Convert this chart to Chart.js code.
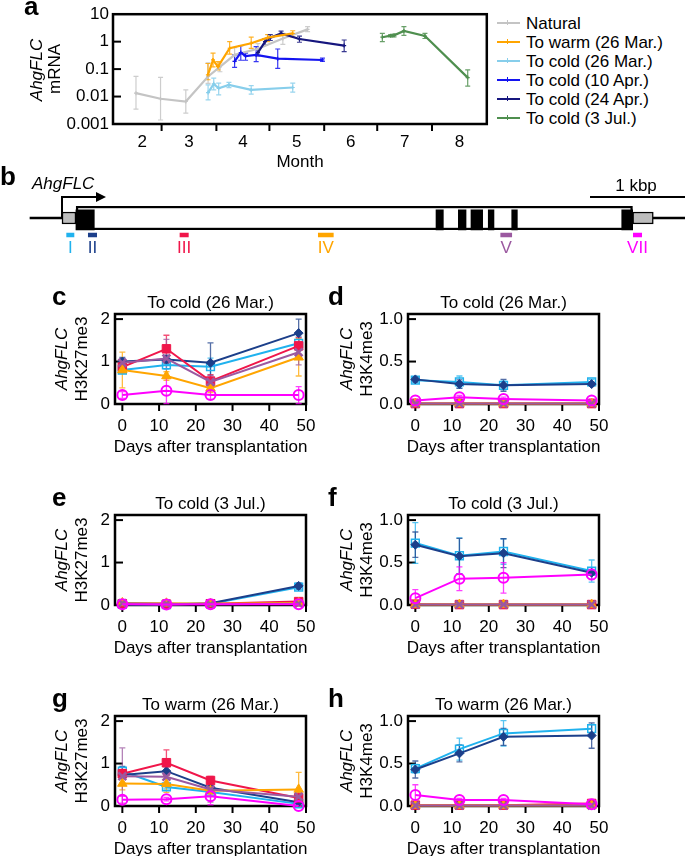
<!DOCTYPE html>
<html>
<head>
<meta charset="utf-8">
<script src="https://cdn.jsdelivr.net/npm/chart.js@4.4.1/dist/chart.umd.min.js"></script>
<style>
html,body{margin:0;padding:0;background:#fff;}
body{width:685px;height:856px;position:relative;overflow:hidden;font-family:"Liberation Sans",Arial,Helvetica,sans-serif;color:#000;}
canvas{position:absolute;}
.tx{position:absolute;font-size:17px;line-height:17px;white-space:nowrap;transform:translate(-50%,-50%);}
.tl{position:absolute;font-size:17px;line-height:17px;white-space:nowrap;transform:translate(0,-50%);}
.rt{position:absolute;font-size:17px;line-height:17px;white-space:nowrap;transform:translate(-50%,-50%) rotate(-90deg);}
.pl{position:absolute;font-size:26px;line-height:26px;font-weight:bold;}
.it{font-style:italic;}
.lg{position:absolute;height:0;width:23px;border-top:2px solid;}
.lg i{position:absolute;left:10px;top:-4px;width:0;height:5px;border-left:1.5px solid;border-color:inherit;}
</style>
</head>
<body>
<script>
// ================= DATA =================
// ---- panel a: AhgFLC mRNA (x = day of year, Jan 1 = 0) ----
const seriesNames = ['Natural', 'To warm (26 Mar.)', 'To cold (26 Mar.)', 'To cold (10 Apr.)', 'To cold (24 Apr.)', 'To cold (3 Jul.)'];
const monthTickLabels = ['2', '3', '4', '5', '6', '7', '8'];
const monthTickDoy = [48, 74.5, 105, 135.5, 166, 196.5, 227.5];
const monthStartDoy = [59, 90, 120, 151, 181, 212];
const mrnaTickValues = [0.001, 0.01, 0.1, 1, 10];
const mrnaTickLabels = ['0.001', '0.01', '0.1', '1', '10'];

const naturalDoy = [44.5, 58.4, 72.7, 85.3, 92, 100.3, 113.5, 127.6, 141.6];
const naturalMean = [0.0133, 0.0083, 0.0066, 0.054, 0.12, 0.33, 0.55, 1.3, 2.8];
const naturalLow = [0.0035, 0.0014, 0.0025, 0.03, 0.08, 0.19, 0.35, 0.8, 2.3];
const naturalHigh = [0.054, 0.05, 0.0175, 0.17, 0.17, 0.6, 0.85, 2.0, 3.5];

const warmMarDoy = [85.2, 88.1, 90.9, 97.5, 109.7, 119, 133.2];
const warmMarMean = [0.062, 0.215, 0.123, 0.575, 0.87, 1.4, 2.0];
const warmMarLow = [0.041, 0.12, 0.093, 0.35, 0.57, 1.0, 1.5];
const warmMarHigh = [0.16, 0.38, 0.187, 1.0, 1.45, 1.8, 2.5];

const coldMarDoy = [85.3, 88.5, 91.3, 97.1, 109.7, 133.2];
const coldMarMean = [0.014, 0.029, 0.020, 0.0266, 0.0175, 0.0214];
const coldMarLow = [0.0076, 0.0175, 0.0115, 0.021, 0.0123, 0.0145];
const coldMarHigh = [0.0266, 0.047, 0.031, 0.033, 0.025, 0.031];

const coldApr10Doy = [100.3, 103.8, 106.5, 112.5, 124.7, 150];
const coldApr10Mean = [0.19, 0.40, 0.30, 0.33, 0.24, 0.215];
const coldApr10Low = [0.115, 0.21, 0.21, 0.187, 0.107, 0.19];
const coldApr10High = [0.33, 0.71, 0.38, 0.66, 0.54, 0.25];

const coldApr24Doy = [113.5, 117.5, 120.5, 126.6, 137, 162.3];
const coldApr24Mean = [0.40, 1.0, 1.4, 2.0, 1.25, 0.72];
const coldApr24Low = [0.3, 0.75, 1.1, 1.7, 0.95, 0.43];
const coldApr24High = [0.55, 1.3, 1.8, 2.4, 1.6, 1.15];

const coldJulDoy = [183.9, 188.6, 190.5, 196.1, 208, 232.2];
const coldJulMean = [1.45, 1.65, 1.7, 2.45, 1.6, 0.049];
const coldJulLow = [1.0, 1.5, 1.5, 1.7, 1.3, 0.024];
const coldJulHigh = [2.0, 1.8, 1.9, 3.5, 2.0, 0.093];

// ---- panel b: gene model (bp from TSS) ----
const tssBp = 0;
const flankSpans = [[-337, 0], [6224, 6558]];
const utrSpans = [[0, 147], [6007, 6224]];
const geneBodySpan = [147, 6007];
const exonSpans = [[147, 340], [3937, 4014], [4172, 4253], [4305, 4428], [4487, 4547], [4734, 4793], [5892, 6007]];
const primerSpans = [[49, 126], [277, 365], [1242, 1330], [2698, 2856], [4618, 4734], [6014, 6102]];
const scaleBarSpan = [5558, 6558];

// ---- panels c-h: ChIP (rows in regionNames order) ----
const regionNames = ['I', 'II', 'III', 'IV', 'V', 'VII'];
const dayValues = [0, 12, 24, 48];
const dayTicks = [0, 10, 20, 30, 40, 50];
const dayTickLabels = ['0', '10', '20', '30', '40', '50'];
const k27Ticks = [0, 1, 2];
const k27TickLabels = ['0', '1', '2'];
const k4Ticks = [0, 0.5, 1];
const k4TickLabels = ['0.0', '0.5', '1.0'];

// c: H3K27me3, to cold (26 Mar.)
const cMean = [[0.80, 0.92, 0.88, 1.43], [1.00, 1.05, 0.97, 1.67], [0.87, 1.30, 0.54, 1.37], [0.80, 0.66, 0.37, 1.10], [0.97, 1.07, 0.52, 1.22], [0.21, 0.31, 0.21, 0.21]];
const cSD = [[0.08, 0.10, 0.20, 0.15], [0.10, 0.10, 0.47, 0.33], [0.12, 0.32, 0.15, 0.20], [0.42, 0.10, 0.10, 0.44], [0.10, 0.45, 0.15, 0.30], [0.08, 0.30, 0.10, 0.20]];
// d: H3K4me3, to cold (26 Mar.)
const dMean = [[0.28, 0.26, 0.22, 0.26], [0.29, 0.235, 0.22, 0.235], [0.005, 0.005, 0.005, 0.005], [0.005, 0.005, 0.005, 0.005], [0.005, 0.005, 0.005, 0.005], [0.04, 0.08, 0.06, 0.04]];
const dSD = [[0.03, 0.07, 0.05, 0.03], [0.03, 0.05, 0.07, 0.02], [0.003, 0.003, 0.003, 0.003], [0.003, 0.003, 0.003, 0.003], [0.003, 0.003, 0.003, 0.003], [0.02, 0.02, 0.02, 0.02]];
// e: H3K27me3, to cold (3 Jul.)
const eMean = [[0.02, 0.01, 0.03, 0.42], [0.02, 0.02, 0.04, 0.45], [0.03, 0.02, 0.03, 0.08], [0.05, 0.04, 0.03, 0.05], [0.04, 0.03, 0.02, 0.03], [0.02, 0.01, 0.02, 0.02]];
const eSD = [[0.02, 0.01, 0.01, 0.06], [0.02, 0.01, 0.01, 0.07], [0.02, 0.01, 0.01, 0.03], [0.03, 0.02, 0.02, 0.02], [0.02, 0.01, 0.01, 0.01], [0.01, 0.01, 0.01, 0.01]];
// f: H3K4me3, to cold (3 Jul.)
const fMean = [[0.73, 0.58, 0.63, 0.40], [0.71, 0.575, 0.61, 0.38], [0.01, 0.005, 0.005, 0.005], [0.005, 0.005, 0.005, 0.005], [0.005, 0.005, 0.005, 0.005], [0.08, 0.31, 0.32, 0.36]];
const fSD = [[0.24, 0.21, 0.15, 0.13], [0.15, 0.21, 0.17, 0.03], [0.003, 0.003, 0.003, 0.003], [0.003, 0.003, 0.003, 0.003], [0.003, 0.003, 0.003, 0.003], [0.10, 0.14, 0.18, 0.06]];
// g: H3K27me3, to warm (26 Mar.)
const gMean = [[0.82, 0.45, 0.33, 0.05], [0.73, 0.82, 0.43, 0.09], [0.76, 1.02, 0.60, 0.19], [0.53, 0.52, 0.36, 0.39], [0.70, 0.69, 0.39, 0.22], [0.15, 0.16, 0.23, 0.0]];
const gSD = [[0.10, 0.05, 0.05, 0.03], [0.20, 0.10, 0.05, 0.03], [0.10, 0.30, 0.10, 0.05], [0.15, 0.20, 0.10, 0.40], [0.67, 0.15, 0.30, 0.10], [0.08, 0.04, 0.20, 0.02]];
// h: H3K4me3, to warm (26 Mar.)
const hMean = [[0.44, 0.67, 0.855, 0.91], [0.43, 0.62, 0.815, 0.83], [0.01, 0.01, 0.01, 0.03], [0.005, 0.005, 0.005, 0.005], [0.005, 0.005, 0.005, 0.005], [0.13, 0.07, 0.07, 0.02]];
const hSD = [[0.05, 0.13, 0.15, 0.05], [0.10, 0.10, 0.10, 0.15], [0.005, 0.005, 0.005, 0.01], [0.003, 0.003, 0.003, 0.003], [0.003, 0.003, 0.003, 0.003], [0.12, 0.02, 0.02, 0.01]];

// ================= STYLE =================
const FONT = "'Liberation Sans', Arial, Helvetica, sans-serif";
const mrnaColors = ['#c4c4c4', '#ffa500', '#87ceeb', '#1414f0', '#16167e', '#4f8f4f'];
const regionColors = ['#20b2ee', '#1c3f8a', '#f0164a', '#ffa500', '#9b59a0', '#ff00ff'];
const regionStyle = [
  {pointStyle: 'rect', radius: 5.5, fill: false, bw: 1.5, order: 5},
  {pointStyle: 'rectRot', radius: 4.5, fill: true, bw: 1, order: 4},
  {pointStyle: 'rect', radius: 6, fill: true, bw: 1, order: 3},
  {pointStyle: 'triangle', radius: 5.5, fill: true, bw: 1, order: 2},
  {pointStyle: 'crossRot', radius: 5.5, fill: true, bw: 2.5, order: 1},
  {pointStyle: 'circle', radius: 5, fill: false, bw: 2, order: 0}
];

Chart.defaults.font.family = FONT;
Chart.defaults.font.size = 17;
Chart.defaults.color = '#000';
Chart.defaults.animation = false;
Chart.defaults.events = [];
Chart.defaults.plugins.legend.display = false;
Chart.defaults.plugins.tooltip.enabled = false;

function hexA(hex, a) {
  const n = parseInt(hex.slice(1), 16);
  return `rgba(${(n >> 16) & 255},${(n >> 8) & 255},${n & 255},${a})`;
}

// ---------- plugins ----------
const errorBars = {
  id: 'errorBars',
  beforeDatasetsDraw(chart, args, opts) {
    const ctx = chart.ctx, ys = chart.scales.y;
    chart.data.datasets.forEach((ds, di) => {
      if (!ds.errLow) return;
      const meta = chart.getDatasetMeta(di);
      ctx.save();
      ctx.strokeStyle = ds.errColor || ds.borderColor;
      ctx.lineWidth = opts.width || 1.3;
      const c = opts.cap || 3;
      meta.data.forEach((pt, i) => {
        const y1 = ys.getPixelForValue(ds.errLow[i]);
        const y2 = ys.getPixelForValue(ds.errHigh[i]);
        const x = pt.x;
        ctx.beginPath();
        ctx.moveTo(x, y1); ctx.lineTo(x, y2);
        ctx.moveTo(x - c, y1); ctx.lineTo(x + c, y1);
        ctx.moveTo(x - c, y2); ctx.lineTo(x + c, y2);
        ctx.stroke();
      });
      ctx.restore();
    });
  }
};

const framePlugin = {
  id: 'frame',
  beforeDatasetsDraw(chart, args, opts) {
    const {ctx, chartArea: a} = chart;
    const x = chart.scales.x, y = chart.scales.y;
    ctx.save();
    ctx.strokeStyle = '#000';
    ctx.lineWidth = 2;
    (opts.yTicks || []).forEach(v => {
      const p = y.getPixelForValue(v);
      ctx.beginPath(); ctx.moveTo(a.left, p); ctx.lineTo(a.left + 8, p); ctx.stroke();
    });
    (opts.xTicks || []).forEach(v => {
      const p = x.getPixelForValue(v);
      ctx.beginPath(); ctx.moveTo(p, a.bottom); ctx.lineTo(p, a.bottom + 7); ctx.stroke();
    });
    ctx.lineWidth = 2.5;
    ctx.strokeRect(a.left, a.top, a.right - a.left, a.bottom - a.top);
    ctx.restore();
  }
};

const geneNotes = {
  id: 'geneNotes',
  beforeDatasetsDraw(chart) {
    // gene body (white box, black outline) beneath the exon bars
    const ctx = chart.ctx, xs = chart.scales.x, ys = chart.scales.y;
    const yGene = ys.getPixelForValue(0);
    const x1 = xs.getPixelForValue(geneBodySpan[0]), x2 = xs.getPixelForValue(geneBodySpan[1]);
    ctx.save();
    ctx.fillStyle = '#fff'; ctx.strokeStyle = '#000'; ctx.lineWidth = 2.2;
    ctx.fillRect(x1, yGene - 12, x2 - x1, 24);
    ctx.strokeRect(x1 + 1.1, yGene - 10.9, x2 - x1 - 2.2, 21.8);
    ctx.restore();
  },
  afterDatasetsDraw(chart) {
    const ctx = chart.ctx, xs = chart.scales.x, ys = chart.scales.y;
    const yGene = ys.getPixelForValue(0);
    const yPrimer = ys.getPixelForValue(1);
    ctx.save();
    ctx.strokeStyle = '#000'; ctx.fillStyle = '#000'; ctx.lineWidth = 2;
    // TSS arrow
    const x0 = xs.getPixelForValue(tssBp);
    const yTop = yGene - 21;
    ctx.beginPath(); ctx.moveTo(x0, yGene + 1); ctx.lineTo(x0, yTop); ctx.lineTo(x0 + 35, yTop); ctx.stroke();
    ctx.beginPath(); ctx.moveTo(x0 + 44, yTop); ctx.lineTo(x0 + 34, yTop - 5); ctx.lineTo(x0 + 34, yTop + 5); ctx.closePath(); ctx.fill();
    // scale bar
    ctx.beginPath();
    ctx.moveTo(xs.getPixelForValue(scaleBarSpan[0]), yTop);
    ctx.lineTo(xs.getPixelForValue(scaleBarSpan[1]), yTop);
    ctx.stroke();
    // primer labels
    ctx.font = '17px ' + FONT; ctx.textAlign = 'center'; ctx.textBaseline = 'middle';
    primerSpans.forEach((s, i) => {
      ctx.fillStyle = regionColors[i];
      ctx.fillText(regionNames[i], xs.getPixelForValue((s[0] + s[1]) / 2), yPrimer + 13);
    });
    ctx.restore();
  }
};

// ---------- helpers ----------
function addCanvas(left, top, w, h) {
  const c = document.createElement('canvas');
  c.width = w; c.height = h;
  c.style.left = left + 'px'; c.style.top = top + 'px';
  c.style.width = w + 'px'; c.style.height = h + 'px';
  document.body.appendChild(c);
  return c;
}
function addText(cls, x, y, html) {
  const d = document.createElement('div');
  d.className = cls;
  d.style.left = x + 'px'; d.style.top = y + 'px';
  d.innerHTML = html;
  document.body.appendChild(d);
  return d;
}

// ================= PANEL a =================
(function () {
  const xs = [naturalDoy, warmMarDoy, coldMarDoy, coldApr10Doy, coldApr24Doy, coldJulDoy];
  const ms = [naturalMean, warmMarMean, coldMarMean, coldApr10Mean, coldApr24Mean, coldJulMean];
  const lo = [naturalLow, warmMarLow, coldMarLow, coldApr10Low, coldApr24Low, coldJulLow];
  const hi = [naturalHigh, warmMarHigh, coldMarHigh, coldApr10High, coldApr24High, coldJulHigh];
  const drawOrder = [5, 1, 4, 3, 2, 0];
  const datasets = seriesNames.map((n, k) => ({
    label: n,
    data: xs[k].map((x, i) => ({x, y: ms[k][i]})),
    borderColor: mrnaColors[k], backgroundColor: mrnaColors[k],
    errColor: hexA(mrnaColors[k], 0.85),
    errLow: lo[k], errHigh: hi[k],
    borderWidth: 2.2, pointStyle: 'cross', pointRadius: 2, pointBorderWidth: 1.2,
    tension: 0, clip: false, order: drawOrder[k]
  }));
  const W = 492, H = 158, top = 0, plotTop = 14, plotBottom = 124;
  new Chart(addCanvas(0, top, W, H), {
    type: 'line',
    data: {datasets},
    options: {
      responsive: false,
      layout: {padding: {top: plotTop - top, right: W - 488, left: 0, bottom: 0}},
      scales: {
        x: {type: 'linear', min: 31.5, max: 243,
          afterBuildTicks: s => { s.ticks = monthTickDoy.map(v => ({value: v})); },
          ticks: {padding: 8, maxRotation: 0, autoSkip: false, callback: (v, i) => monthTickLabels[i]},
          grid: {display: false, drawTicks: false}, border: {display: false},
          afterFit: s => { s.height = H - plotBottom; }},
        y: {type: 'logarithmic', min: 0.001, max: 10,
          afterBuildTicks: s => { s.ticks = mrnaTickValues.map(v => ({value: v})); },
          ticks: {padding: 4, autoSkip: false, callback: (v, i) => mrnaTickLabels[i]},
          grid: {display: false, drawTicks: false}, border: {display: false},
          afterFit: s => { s.width = 113; }}
      },
      plugins: {frame: {yTicks: [0.01, 0.1, 1], xTicks: monthStartDoy}, errorBars: {cap: 2.5, width: 1.2}}
    },
    plugins: [framePlugin, errorBars]
  });
  // legend
  seriesNames.forEach((n, k) => {
    const y = 23 + 19 * k;
    const l = document.createElement('div');
    l.className = 'lg';
    l.style.left = '497px'; l.style.top = (y - 1) + 'px'; l.style.borderColor = mrnaColors[k];
    l.innerHTML = '<i></i>';
    document.body.appendChild(l);
    addText('tl', 526, y, n);
  });
  addText('pl', 24, -7, 'a');
  addText('rt', 36, 70, '<span class="it">AhgFLC</span>');
  addText('rt', 54, 69, 'mRNA');
  addText('tx', 300, 161, 'Month');
})();

// ================= PANEL b =================
(function () {
  const W = 685, H = 72, top = 188;
  new Chart(addCanvas(0, top, W, H), {
    type: 'bar',
    data: {
      labels: ['gene', 'primer'],
      datasets: [
        {label: 'flanks', data: flankSpans.map(s => ({x: s, y: 'gene'})), backgroundColor: '#000', barThickness: 2, order: 6},
        {label: 'UTR', data: utrSpans.map(s => ({x: s, y: 'gene'})), backgroundColor: '#bdbdbd', borderColor: '#000', borderWidth: 1.5, borderSkipped: false, barThickness: 12, order: 5},
        {label: 'exons', data: exonSpans.map(s => ({x: s, y: 'gene'})), backgroundColor: '#000', barThickness: 24, order: 3},
        {label: 'primers', data: primerSpans.map(s => ({x: s, y: 'primer'})), backgroundColor: regionColors, barThickness: 4, order: 2}
      ]
    },
    options: {
      indexAxis: 'y', responsive: false,
      layout: {padding: {top: 21.5, bottom: 16.5, left: 0, right: 0}},
      datasets: {bar: {grouped: false}},
      scales: {
        x: {type: 'linear', display: false, min: -652.6, max: 6557.9},
        y: {type: 'category', display: false}
      }
    },
    plugins: [geneNotes]
  });
  addText('pl', 0, 163, 'b');
  addText('tl', 32, 183, '<span class="it">AhgFLC</span>');
  addText('tx', 636, 185, '1 kbp');
})();

// ================= PANELS c-h =================
function histonePanel(col, row, means, sds, isK27, title, letter) {
  const colLeft = [0, 340][col], colW = [340, 345][col];
  const plotLeft = [115, 408][col], plotRight = [306, 599][col];
  const plotTop = [314, 515, 716][row], plotBottom = [404, 605, 806][row];
  const top = plotTop - 20, H = plotBottom - plotTop + 20 + 38;
  const ticks = isK27 ? k27Ticks : k4Ticks;
  const labels = isK27 ? k27TickLabels : k4TickLabels;
  const datasets = regionNames.map((r, k) => {
    const st = regionStyle[k], c = regionColors[k];
    return {
      label: r,
      data: dayValues.map((d, i) => ({x: d, y: means[k][i]})),
      errLow: means[k].map((m, i) => m - sds[k][i]),
      errHigh: means[k].map((m, i) => m + sds[k][i]),
      errColor: hexA(c, 0.75),
      borderColor: c, borderWidth: 2,
      pointStyle: st.pointStyle, pointRadius: st.radius, pointBorderWidth: st.bw,
      pointBackgroundColor: st.fill ? c : 'rgba(255,255,255,0)', pointBorderColor: c,
      tension: 0, clip: false, order: st.order
    };
  });
  new Chart(addCanvas(colLeft, top, colW, H), {
    type: 'line',
    data: {datasets},
    options: {
      responsive: false,
      layout: {padding: {top: plotTop - top, right: colLeft + colW - plotRight, left: 0, bottom: 0}},
      scales: {
        x: {type: 'linear', min: -2, max: 50,
          afterBuildTicks: s => { s.ticks = dayTicks.map(v => ({value: v})); },
          ticks: {padding: 12, maxRotation: 0, autoSkip: false, callback: (v, i) => dayTickLabels[i]},
          grid: {display: false, drawTicks: false}, border: {display: false},
          afterFit: s => { s.height = H - (plotBottom - top); }},
        y: {type: 'linear', min: 0, max: isK27 ? 2.12 : 1.06,
          afterBuildTicks: s => { s.ticks = ticks.map(v => ({value: v})); },
          ticks: {padding: 5, autoSkip: false, callback: (v, i) => labels[i]},
          grid: {display: false, drawTicks: false}, border: {display: false},
          afterFit: s => { s.width = plotLeft - colLeft; }}
      },
      plugins: {frame: {yTicks: ticks, xTicks: dayTicks}, errorBars: {cap: 3, width: 1.3}}
    },
    plugins: [framePlugin, errorBars]
  });
  const cx = (plotLeft + plotRight) / 2;
  addText('tx', cx, plotTop - 12, title);
  addText('tx', cx, plotBottom + 42, 'Days after transplantation');
  const cy = (plotTop + plotBottom) / 2;
  const titleX = isK27 ? [plotLeft - 54, plotLeft - 34] : [plotLeft - 62, plotLeft - 42];
  addText('rt', titleX[0], cy, '<span class="it">AhgFLC</span>');
  addText('rt', titleX[1], cy, isK27 ? 'H3K27me3' : 'H3K4me3');
  addText('pl', col === 0 ? 52 : 328, plotTop - 31, letter);
}

histonePanel(0, 0, cMean, cSD, true, 'To cold (26 Mar.)', 'c');
histonePanel(1, 0, dMean, dSD, false, 'To cold (26 Mar.)', 'd');
histonePanel(0, 1, eMean, eSD, true, 'To cold (3 Jul.)', 'e');
histonePanel(1, 1, fMean, fSD, false, 'To cold (3 Jul.)', 'f');
histonePanel(0, 2, gMean, gSD, true, 'To warm (26 Mar.)', 'g');
histonePanel(1, 2, hMean, hSD, false, 'To warm (26 Mar.)', 'h');
</script>
</body>
</html>
